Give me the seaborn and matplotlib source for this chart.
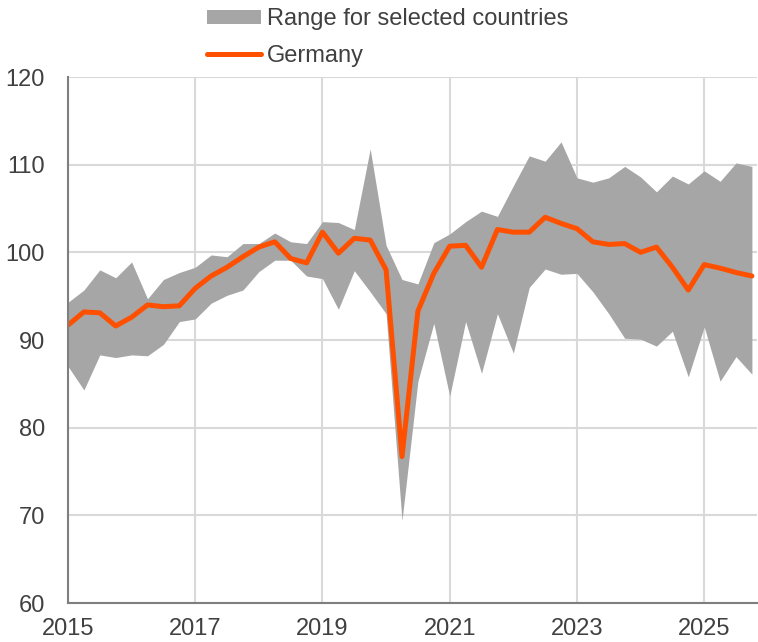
import numpy as np
import pandas as pd
import matplotlib
matplotlib.use("Agg")
import matplotlib.pyplot as plt
import seaborn as sns
from matplotlib.patches import Patch
from matplotlib.lines import Line2D

# quarterly values, 2015Q1 .. 2025Q4
quarters = pd.period_range("2015Q1", "2025Q4", freq="Q")
germany = [91.7, 93.2, 93.1, 91.6, 92.6, 94.0, 93.8, 93.9, 95.9, 97.3, 98.3, 99.5,
           100.6, 101.2, 99.3, 98.8, 102.3, 99.9, 101.6, 101.4, 98.0, 76.7, 93.3, 97.6,
           100.7, 100.8, 98.3, 102.6, 102.3, 102.3, 104.0, 103.3, 102.7, 101.2, 100.9, 101.0,
           100.0, 100.6, 98.3, 95.7, 98.6, 98.2, 97.7, 97.3]
range_high = [94.3, 95.7, 98.0, 97.1, 98.9, 94.7, 96.9, 97.7, 98.3, 99.7, 99.5, 101.0,
              101.0, 102.2, 101.2, 101.0, 103.5, 103.4, 102.6, 111.8, 100.8, 96.9, 96.4, 101.1,
              102.1, 103.5, 104.7, 104.1, 107.6, 111.0, 110.4, 112.6, 108.5, 108.0, 108.5, 109.8,
              108.6, 106.9, 108.7, 107.8, 109.3, 108.1, 110.2, 109.8]
range_low = [87.0, 84.3, 88.3, 88.0, 88.3, 88.2, 89.5, 92.1, 92.4, 94.2, 95.1, 95.7,
             97.8, 99.1, 99.1, 97.3, 97.0, 93.5, 97.9, 95.5, 93.0, 69.4, 85.3, 91.9,
             83.6, 92.1, 86.2, 93.0, 88.5, 96.0, 98.1, 97.5, 97.6, 95.5, 93.0, 90.2,
             90.1, 89.3, 91.0, 85.8, 91.5, 85.3, 88.1, 86.1]

df = pd.DataFrame({
    "t": [q.year + (q.quarter - 1) / 4 for q in quarters],
    "germany": germany,
    "high": range_high,
    "low": range_low,
})

sns.set_style("whitegrid")
plt.rcParams['font.family'] = ['Liberation Sans', 'DejaVu Sans']

grey = "#A6A6A6"
orange = "#FF5000"
txt = "#404040"

fig = plt.figure(figsize=(7.58, 6.42), dpi=100)
ax = fig.add_axes([68 / 758, 39 / 642, 689 / 758, 526 / 642])

ax.fill_between(df["t"], df["low"], df["high"], color=grey, linewidth=0, zorder=2)
sns.lineplot(data=df, x="t", y="germany", color=orange, linewidth=3.6, ax=ax,
             solid_capstyle="round", zorder=3)

ax.set_xlim(2015, 2025.83)
ax.set_ylim(60, 120)
ax.set_xticks([2015, 2017, 2019, 2021, 2023, 2025])
ax.set_yticks(range(60, 121, 10))
ax.set_xlabel("")
ax.set_ylabel("")
ax.grid(True, color="#D9D9D9", linewidth=1.5)
ax.set_axisbelow(True)

for side in ["top", "right"]:
    ax.spines[side].set_visible(False)
for side in ["left", "bottom"]:
    ax.spines[side].set_color("#7F7F7F")
    ax.spines[side].set_linewidth(1.5)
    ax.spines[side].set_zorder(4)

ax.tick_params(axis="x", direction="out", length=5, width=1.5, color="#7F7F7F",
               labelsize=17, labelcolor=txt, pad=6)
ax.tick_params(axis="y", direction="out", length=4.5, width=1.5, color="#7F7F7F",
               labelsize=17, labelcolor=txt, pad=12)

handles = [Patch(facecolor=grey, edgecolor="none", label="Range for selected countries"),
           Line2D([], [], color=orange, linewidth=3.6, solid_capstyle="round", label="Germany")]
fig.legend(handles=handles, loc="upper left", bbox_to_anchor=(207 / 758, 0.987),
           frameon=False, borderpad=0, borderaxespad=0,
           handlelength=2.3, handleheight=0.55, handletextpad=0.25, labelspacing=0.62,
           prop={"size": 17}, labelcolor=txt)

fig.savefig("out.png", dpi=100)
